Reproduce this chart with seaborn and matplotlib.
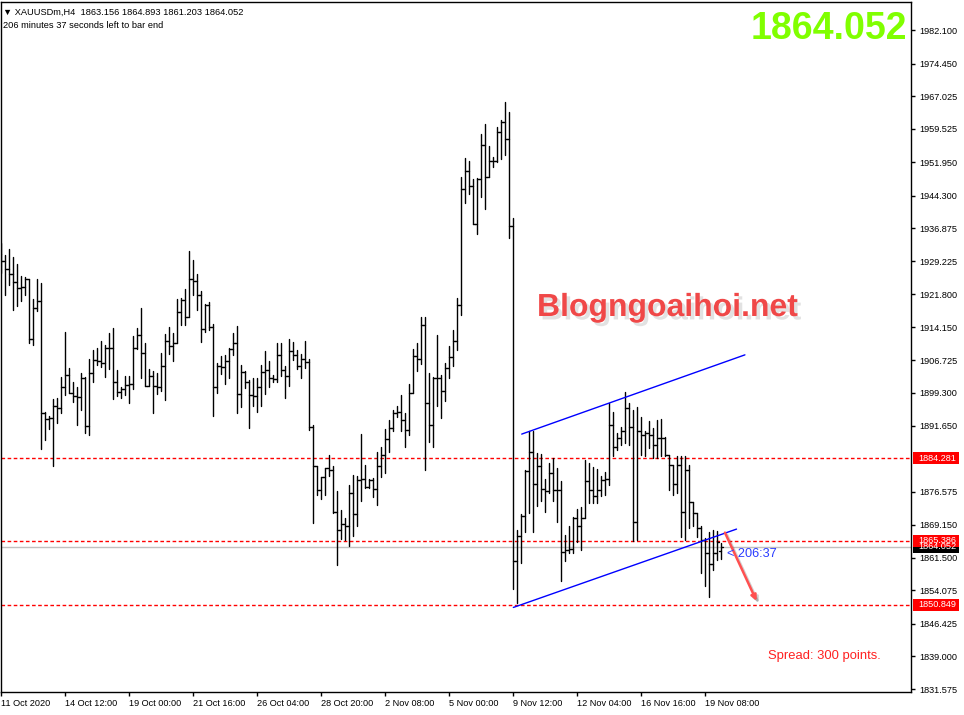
import numpy as np
import pandas as pd
import matplotlib
matplotlib.use("Agg")
import matplotlib.pyplot as plt
import matplotlib.patheffects as pe
from matplotlib.patches import Rectangle
import seaborn as sns

# ---------------- data ----------------
symbol_line = "\u25bc XAUUSDm,H4  1863.156 1864.893 1861.203 1864.052"
timer_line = "206 minutes 37 seconds left to bar end"
big_price = "1864.052"
watermark = "Blogngoaihoi.net"
spread_text = "Spread: 300 points."
countdown_text = "< 206:37"

opens = [1931.0, 1929.3, 1927.4, 1926.4, 1924.6, 1923.1, 1923.3, 1925.2, 1911.5, 1918.5,
         1920.3, 1894.7, 1893.2, 1893.4, 1896.2, 1895.7, 1900.5, 1903.2, 1899.3, 1898.4,
         1898.2, 1902.6, 1891.7, 1903.7, 1906.7, 1906.5, 1906.0, 1909.4, 1909.4, 1901.6,
         1899.5, 1900.0, 1901.0, 1901.2, 1909.5, 1912.4, 1908.3, 1900.9, 1903.1, 1900.9,
         1900.6, 1905.4, 1911.1, 1909.9, 1910.5, 1917.8, 1920.4, 1916.5, 1925.2, 1924.8,
         1921.5, 1913.8, 1919.3, 1914.2, 1900.6, 1905.4, 1905.1, 1906.5, 1909.2, 1910.5,
         1898.9, 1904.0, 1901.8, 1898.7, 1898.6, 1900.5, 1904.0, 1904.5, 1902.5, 1902.3,
         1907.9, 1904.5, 1903.1, 1908.8, 1907.9, 1905.4, 1907.0, 1906.2, 1891.5, 1882.5,
         1877.0, 1879.9, 1882.0, 1881.5, 1871.9, 1867.9, 1869.2, 1868.7, 1876.3, 1871.5,
         1879.3, 1879.5, 1877.7, 1879.3, 1877.2, 1882.5, 1885.0, 1888.6, 1891.1, 1894.6,
         1894.8, 1893.0, 1890.7, 1899.3, 1907.6, 1906.9, 1914.7, 1896.8, 1891.9, 1902.7,
         1902.7, 1899.7, 1904.8, 1907.5, 1911.1, 1919.4, 1945.7, 1949.9, 1946.5, 1937.9,
         1948.1, 1955.8, 1948.6, 1952.2, 1952.2, 1958.7, 1961.0, 1957.2, 1937.4, 1860.8,
         1866.6, 1871.1, 1881.4, 1885.6, 1878.5, 1882.4, 1877.2, 1876.9, 1880.8, 1877.0,
         1877.0, 1862.8, 1863.3, 1863.5, 1870.6, 1868.8, 1870.6, 1879.2, 1877.0, 1875.7,
         1877.0, 1879.3, 1879.5, 1891.9, 1886.9, 1888.8, 1890.5, 1895.7, 1891.5, 1869.7,
         1890.4, 1889.5, 1890.0, 1889.6, 1887.3, 1888.8, 1888.8, 1885.0, 1882.8, 1878.4,
         1882.8, 1871.9, 1881.6, 1874.2, 1871.7, 1868.4, 1865.6, 1862.6, 1860.1, 1862.6,
         1863.156]

highs = [1933.4, 1930.7, 1932.1, 1930.3, 1928.7, 1925.9, 1925.6, 1925.2, 1920.7, 1925.2,
         1924.2, 1894.9, 1893.9, 1897.8, 1898.1, 1902.9, 1913.2, 1904.8, 1901.8, 1900.6,
         1903.7, 1902.8, 1907.0, 1908.9, 1909.4, 1911.1, 1910.1, 1913.0, 1914.0, 1904.5,
         1900.6, 1903.1, 1903.1, 1912.1, 1914.0, 1918.6, 1910.5, 1904.7, 1904.3, 1903.7,
         1908.4, 1912.7, 1914.3, 1913.0, 1920.7, 1921.0, 1922.9, 1931.6, 1929.6, 1926.3,
         1922.5, 1919.5, 1919.9, 1914.9, 1906.0, 1907.6, 1907.8, 1909.4, 1912.8, 1914.4,
         1905.5, 1904.1, 1902.2, 1902.5, 1902.5, 1905.6, 1908.8, 1906.5, 1903.3, 1910.5,
         1910.5, 1905.4, 1911.5, 1910.9, 1908.9, 1908.0, 1911.1, 1907.0, 1891.9, 1882.6,
         1880.1, 1882.1, 1885.0, 1882.5, 1876.8, 1872.5, 1870.7, 1878.2, 1880.5, 1880.3,
         1889.8, 1882.8, 1879.6, 1879.7, 1885.8, 1886.9, 1890.9, 1893.0, 1895.3, 1896.2,
         1898.7, 1894.6, 1901.2, 1909.2, 1910.5, 1916.5, 1916.5, 1903.8, 1902.9, 1912.4,
         1903.3, 1906.1, 1909.9, 1913.6, 1920.8, 1948.6, 1952.8, 1952.2, 1948.0, 1948.2,
         1958.4, 1960.6, 1955.5, 1953.2, 1959.9, 1961.5, 1965.6, 1963.3, 1939.2, 1868.0,
         1871.5, 1881.6, 1890.5, 1890.6, 1885.4, 1885.3, 1879.5, 1883.1, 1884.4, 1882.0,
         1879.2, 1866.7, 1868.7, 1870.9, 1872.8, 1873.2, 1883.9, 1883.1, 1882.2, 1881.8,
         1880.2, 1881.2, 1896.8, 1894.9, 1890.0, 1891.5, 1899.4, 1896.8, 1895.3, 1896.1,
         1893.6, 1890.4, 1892.7, 1891.3, 1893.0, 1893.3, 1889.2, 1885.0, 1882.8, 1884.7,
         1884.9, 1884.9, 1882.8, 1874.4, 1871.7, 1868.7, 1866.0, 1867.5, 1867.8, 1867.7,
         1864.893]

lows = [1926.7, 1921.6, 1923.9, 1918.2, 1919.1, 1920.3, 1921.5, 1910.5, 1910.2, 1918.0,
        1886.4, 1888.5, 1891.0, 1882.4, 1892.4, 1894.6, 1898.7, 1899.1, 1897.1, 1891.9,
        1895.3, 1890.1, 1889.5, 1901.8, 1905.5, 1905.1, 1902.9, 1904.6, 1897.9, 1898.4,
        1898.0, 1898.7, 1897.0, 1900.2, 1909.2, 1902.5, 1900.8, 1900.8, 1894.7, 1898.9,
        1899.7, 1897.6, 1908.0, 1906.6, 1910.5, 1914.7, 1914.7, 1916.5, 1921.6, 1918.2,
        1910.8, 1913.2, 1913.6, 1894.0, 1899.3, 1903.5, 1901.3, 1902.7, 1907.9, 1894.6,
        1895.9, 1900.3, 1891.3, 1896.3, 1894.9, 1896.3, 1898.9, 1900.5, 1901.8, 1901.8,
        1903.1, 1898.0, 1900.9, 1906.7, 1904.7, 1902.5, 1904.8, 1890.7, 1869.4, 1875.9,
        1874.9, 1875.9, 1880.3, 1871.7, 1859.8, 1865.8, 1865.6, 1864.3, 1866.5, 1868.9,
        1874.6, 1877.4, 1877.4, 1875.4, 1873.5, 1879.9, 1881.0, 1885.8, 1890.4, 1893.6,
        1890.4, 1886.9, 1889.6, 1899.1, 1904.1, 1905.7, 1881.5, 1887.9, 1886.9, 1896.3,
        1893.4, 1897.4, 1902.5, 1905.4, 1908.9, 1916.9, 1942.5, 1944.6, 1937.7, 1935.5,
        1944.0, 1941.2, 1948.6, 1950.9, 1952.0, 1952.6, 1953.6, 1934.7, 1854.4, 1851.2,
        1860.3, 1867.5, 1871.7, 1867.4, 1873.4, 1874.6, 1871.9, 1876.3, 1874.6, 1869.8,
        1856.3, 1860.7, 1862.6, 1862.6, 1865.2, 1863.3, 1870.6, 1874.0, 1874.0, 1874.0,
        1875.7, 1875.9, 1878.2, 1884.7, 1886.2, 1887.3, 1887.7, 1887.3, 1865.4, 1865.6,
        1885.0, 1884.7, 1886.6, 1884.3, 1884.3, 1884.7, 1884.7, 1877.0, 1875.9, 1876.3,
        1866.2, 1865.6, 1868.3, 1868.7, 1866.4, 1858.0, 1855.2, 1852.5, 1858.8, 1861.1,
        1861.203]

closes = [1929.3, 1927.4, 1926.4, 1924.6, 1923.1, 1923.3, 1925.2, 1911.5, 1918.5, 1920.3,
          1894.7, 1893.2, 1893.4, 1896.2, 1895.7, 1900.5, 1903.2, 1899.3, 1898.4, 1898.2,
          1902.6, 1891.7, 1903.7, 1906.7, 1906.5, 1906.0, 1909.4, 1909.4, 1901.6, 1899.5,
          1900.0, 1901.0, 1901.2, 1909.5, 1912.4, 1908.3, 1900.9, 1903.1, 1900.9, 1900.6,
          1905.4, 1911.1, 1909.9, 1910.5, 1917.8, 1920.4, 1916.5, 1925.2, 1924.8, 1921.5,
          1913.8, 1919.3, 1914.2, 1900.6, 1905.4, 1905.1, 1906.5, 1909.2, 1910.5, 1898.9,
          1904.0, 1901.8, 1898.7, 1898.6, 1900.5, 1904.0, 1904.5, 1902.5, 1902.3, 1907.9,
          1904.5, 1903.1, 1908.8, 1907.9, 1905.4, 1907.0, 1906.2, 1891.5, 1882.5, 1877.0,
          1879.9, 1882.0, 1881.5, 1871.9, 1867.9, 1869.2, 1868.7, 1876.3, 1871.5, 1879.3,
          1879.5, 1877.7, 1879.3, 1877.2, 1882.5, 1885.0, 1888.6, 1891.1, 1894.6, 1894.8,
          1893.0, 1890.7, 1899.3, 1907.6, 1906.9, 1914.7, 1896.8, 1891.9, 1902.7, 1902.7,
          1899.7, 1904.8, 1907.5, 1911.1, 1919.4, 1945.7, 1949.9, 1946.5, 1937.9, 1948.1,
          1955.8, 1948.6, 1952.2, 1952.2, 1958.7, 1961.0, 1957.2, 1937.4, 1860.8, 1866.6,
          1871.1, 1881.4, 1885.6, 1878.5, 1882.4, 1877.2, 1876.9, 1880.8, 1877.0, 1877.0,
          1862.8, 1863.3, 1863.5, 1870.6, 1868.8, 1870.6, 1879.2, 1877.0, 1875.7, 1877.0,
          1879.3, 1879.5, 1891.9, 1886.9, 1888.8, 1890.5, 1895.7, 1891.5, 1869.7, 1890.4,
          1889.5, 1890.0, 1889.6, 1887.3, 1888.8, 1888.8, 1885.0, 1882.8, 1878.4, 1882.8,
          1871.9, 1881.6, 1874.2, 1871.7, 1868.4, 1865.6, 1862.6, 1860.1, 1862.6, 1865.1,
          1864.052]

date_tick_bars = [0, 16, 32, 48, 64, 80, 96, 112, 128, 144, 160, 176]
date_tick_labels = ["11 Oct 2020", "14 Oct 12:00", "19 Oct 00:00", "21 Oct 16:00",
                    "26 Oct 04:00", "28 Oct 20:00", "2 Nov 08:00", "5 Nov 00:00",
                    "9 Nov 12:00", "12 Nov 04:00", "16 Nov 16:00", "19 Nov 08:00"]

price_ticks = [1982.100, 1974.450, 1967.025, 1959.525, 1951.950, 1944.300, 1936.875,
               1929.225, 1921.800, 1914.150, 1906.725, 1899.300, 1891.650, 1876.575,
               1869.150, 1861.500, 1854.075, 1846.425, 1839.000, 1831.575]

level_lines = [1884.281, 1865.386, 1850.849]
current_price = 1864.052

upper_channel_bars = [130.1, 185.9]
upper_channel_prices = [1889.8, 1907.9]
lower_channel_bars = [128.0, 183.8]
lower_channel_prices = [1850.2, 1868.1]
arrow_bars = [180.9, 188.8]
arrow_prices = [1867.3, 1851.7]

# ---------------- style ----------------
sns.set_theme(style="white")
plt.rcParams["font.family"] = ["Liberation Sans", "DejaVu Sans"]
FS = 6.6

W, H = 964, 715
fig = plt.figure(figsize=(W / 100, H / 100), dpi=100, facecolor="white")
ax = fig.add_axes([1 / W, 23 / H, 910 / W, 690 / H])
ax.set_facecolor("white")

# OHLC bars as line segments (wick, open tick, close tick)
rows = []
for i in range(len(closes)):
    rows += [(i, lows[i], 3 * i), (i, highs[i], 3 * i),
             (i - 0.5, opens[i], 3 * i + 1), (i, opens[i], 3 * i + 1),
             (i, closes[i], 3 * i + 2), (i + 0.5, closes[i], 3 * i + 2)]
seg_df = pd.DataFrame(rows, columns=["bar", "price", "seg"])

# horizontal lines
ax.axhline(current_price, color="#c0c0c0", lw=1.0, zorder=1)
for lv in level_lines:
    ax.axhline(lv, color="#ff0000", lw=1.0, dashes=(2.6, 1.8), zorder=1)

sns.lineplot(data=seg_df, x="bar", y="price", units="seg", estimator=None,
             sort=False, color="black", linewidth=1.0, ax=ax, legend=False, zorder=3)

# channel
ax.plot(upper_channel_bars, upper_channel_prices, color="#0000ff", lw=1.0, zorder=4)
ax.plot(lower_channel_bars, lower_channel_prices, color="#0000ff", lw=1.0, zorder=4)

# arrow
ax.annotate("", xy=(arrow_bars[1], arrow_prices[1]), xytext=(arrow_bars[0], arrow_prices[0]),
            arrowprops=dict(arrowstyle="-|>", color="#ff5050", lw=1.8, mutation_scale=8,
                            shrinkA=0, shrinkB=0,
                            path_effects=[pe.SimpleLineShadow(offset=(1.5, -1.5), alpha=0.2),
                                          pe.Normal()]),
            zorder=5)

ax.set_xlim(-0.08, 227.42)
ax.set_ylim(1830.89, 1988.50)
ax.set_xlabel("")
ax.set_ylabel("")

# axes frame
for sp in ax.spines.values():
    sp.set_color("black")
    sp.set_linewidth(1.0)

ax.yaxis.tick_right()
ax.set_yticks(price_ticks)
ax.set_yticklabels([f"{v:.3f}" for v in price_ticks])
ax.set_xticks(date_tick_bars)
ax.set_xticklabels(date_tick_labels, ha="left")
ax.tick_params(axis="y", which="both", right=True, left=False, direction="out",
               length=3, width=1, pad=3, labelsize=FS, colors="black")
ax.tick_params(axis="x", which="both", bottom=True, direction="out",
               length=3, width=1, pad=2, labelsize=FS, colors="black")
ax.grid(False)

# right-axis price boxes (the current-price box sits partly under the red one, as in MT4)
ytr = ax.get_yaxis_transform()
box_h = 12 / 4.378
box_w = 46 / 910
for val, fc in [(current_price, "black"), (level_lines[0], "#ff0000"),
                (level_lines[1], "#ff0000"), (level_lines[2], "#ff0000")]:
    ax.add_patch(Rectangle((1.0025, val - box_h / 2), box_w, box_h, transform=ytr,
                           facecolor=fc, edgecolor="none", clip_on=False, zorder=10))
    ax.text(1.0077, val, f"{val:.3f}", transform=ytr, ha="left", va="center",
            color="white", fontsize=FS, clip_on=False, zorder=11)

# texts
def fx(px):
    return px / W

def fy(py):
    return 1 - py / H

fig.text(fx(3), fy(15), symbol_line, fontsize=6.7, color="black", va="baseline",
         family=["Liberation Sans", "DejaVu Sans"])
fig.text(fx(3), fy(27.5), timer_line, fontsize=6.7, color="black", va="baseline")
fig.text(fx(907), fy(39.3), big_price, fontsize=27, fontweight="bold", color="#80ff00",
         ha="right", va="baseline")
fig.text(fx(537), fy(316), watermark, fontsize=23, fontweight="bold", color="#f04848",
         ha="left", va="baseline",
         path_effects=[pe.withSimplePatchShadow(offset=(2.5, -2.5), shadow_rgbFace="#a0a0a0",
                                                alpha=0.3)])
fig.text(fx(768), fy(659.5), spread_text, fontsize=9.4, color="#ff2020", va="baseline")
fig.text(fx(727), fy(556.7), countdown_text, fontsize=9.2, color="#2a3cff", va="baseline")

fig.savefig("out.png", dpi=100, facecolor="white")
